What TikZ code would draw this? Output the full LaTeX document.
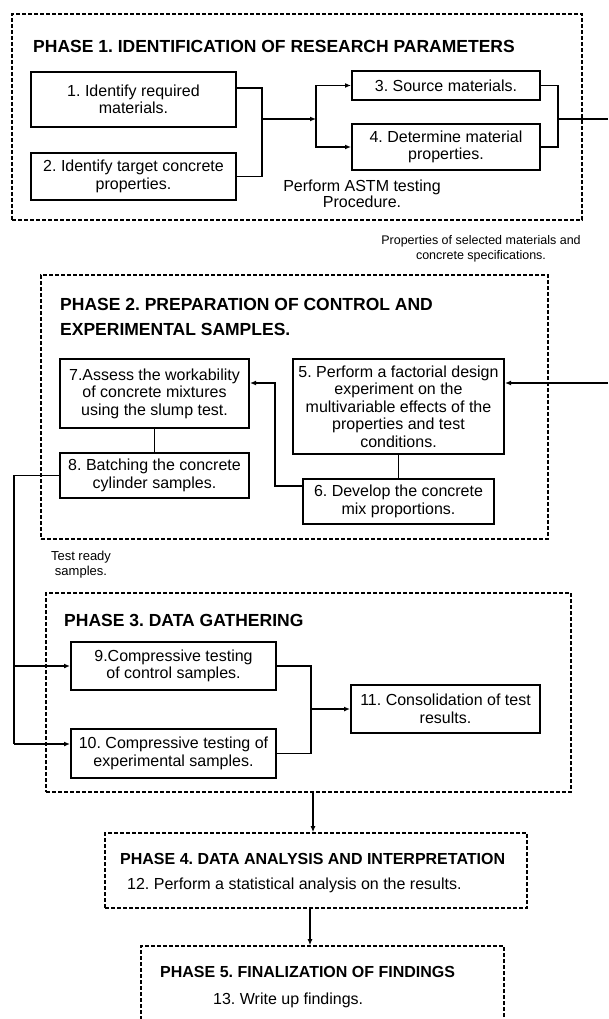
\documentclass[tikz,border=0pt]{standalone}
\usepackage{fontspec}
\setmainfont{Liberation Sans}
\usetikzlibrary{arrows.meta, positioning, calc}
\AtBeginDocument{\frenchspacing}

\begin{document}
\begin{tikzpicture}[
    x=1pt, y=-1pt,
    phase/.style={rectangle, draw, line width=1.6pt, dash pattern=on 4pt off 2pt},
    stepbox/.style={rectangle, draw, line width=2pt, align=center, inner sep=2pt, font=\fontsize{16}{17.5}\selectfont},
    phasetitle/.style={anchor=base west, inner sep=0pt, font=\bfseries\fontsize{17.5}{25}\selectfont},
    remark/.style={align=center, inner sep=0pt, font=\fontsize{12.5}{15}\selectfont},
    link/.style={line width=1.5pt},
    arrow/.style={-{Latex[length=6pt, width=5pt]}, line width=1.5pt}
  ]
  \clip (0,0) rectangle (608,1019);

  % phase 1
  \node[phase, minimum width=570pt, minimum height=206pt] (p1) at (297,117) {};
  \node[phasetitle] (t1) at (33,53) {PHASE 1. IDENTIFICATION OF RESEARCH PARAMETERS};
  \node[stepbox, minimum width=205pt, minimum height=55pt] (s1) at (133.5,99.5) {1. Identify required\\materials.};
  \node[stepbox, minimum width=205pt, minimum height=47pt, below=24pt of s1] (s2) {2. Identify target concrete\\properties.};
  \node[stepbox, minimum width=188pt, minimum height=29pt] (s3) at (446,85.5) {3. Source materials.};
  \node[stepbox, minimum width=188pt, minimum height=46pt, below=22pt of s3] (s4) {4. Determine material\\properties.};
  \node[align=center, inner sep=0pt, font=\fontsize{16}{16}\selectfont] (astm) at (362,194) {Perform ASTM testing\\Procedure.};
  \node[remark] (props) at (481,249) {Properties of selected materials and\\concrete specifications.};

  \coordinate (j1) at (262,119);
  \coordinate (j2) at (316,119);
  \coordinate (j3) at (558,119);
  \coordinate (out1) at (608,119);
  \draw[link] ([yshift=11.5pt]s1.east) -| (j1) |- (s2.east);
  \draw[arrow] (j1) -- (j2);
  \draw[arrow] (j2) |- (s3.west);
  \draw[arrow] (j2) |- (s4.west);
  \draw[link] (s3.east) -| (j3) |- (s4.east);
  \draw[link] (j3) -- (out1);

  % phase 2
  \node[phase, minimum width=507pt, minimum height=264pt] (p2) at (294.5,407) {};
  \node[phasetitle, anchor=north west, align=left] (t2) at (60,298.5) {PHASE 2. PREPARATION OF CONTROL AND\\EXPERIMENTAL SAMPLES.};
  \node[stepbox, minimum width=211pt, minimum height=95pt] (s5) at (398.5,406.5) {5. Perform a factorial design\\experiment on the\\multivariable effects of the\\properties and test\\conditions.};
  \node[stepbox, minimum width=191pt, minimum height=45pt, below=23pt of s5] (s6) {6. Develop the concrete\\mix proportions.};
  \node[stepbox, minimum width=189pt, minimum height=69pt] (s7) at (154.5,393.5) {7.Assess the workability\\of concrete mixtures\\using the slump test.};
  \node[stepbox, minimum width=189pt, minimum height=45pt, below=23pt of s7] (s8) {8. Batching the concrete\\cylinder samples.};
  \node[remark, font=\fontsize{13}{15}\selectfont] (ready) at (81,565) {Test ready\\samples.};

  \coordinate (in2) at (608,383);
  \coordinate (k1) at (275,383);
  \coordinate (k2) at (14,744);
  \draw[arrow] (in2) -- (in2 -| s5.east);
  \draw[link] (s5) -- (s6);
  \draw[arrow] ([yshift=15.5pt]s6.west) -| (k1) -- (k1 -| s7.east);
  \draw[link] (s7) -- (s8);
  \draw[link] (s8.west) -| (k2);

  % phase 3
  \node[phase, minimum width=525pt, minimum height=199pt] (p3) at (308.5,692.5) {};
  \node[phasetitle] (t3) at (64,626) {PHASE 3. DATA GATHERING};
  \node[stepbox, minimum width=205pt, minimum height=48pt] (s9) at (173.5,666) {9.Compressive testing\\of control samples.};
  \node[stepbox, minimum width=205pt, minimum height=49pt, below=37pt of s9] (s10) {10. Compressive testing of\\experimental samples.};
  \node[stepbox, minimum width=189pt, minimum height=48pt] (s11) at (445.5,709) {11. Consolidation of test\\results.};

  \coordinate (k3) at (311,709);
  \draw[arrow] (k2 |- s9.west) -- (s9.west);
  \draw[arrow] (k2) -- (k2 -| s10.west);
  \draw[link] (s9.east) -| (k3) |- (s10.east);
  \draw[arrow] (k3) -- (s11.west);

  % phases 4 and 5
  \node[phase, minimum width=422pt, minimum height=75pt] (p4) at (316,870.5) {};
  \node[phasetitle, font=\bfseries\fontsize{16}{18}\selectfont] (t4) at (120,864) {PHASE 4. DATA ANALYSIS AND INTERPRETATION};
  \node[anchor=base west, inner sep=0pt, font=\fontsize{16}{18}\selectfont] (s12) at (127,889) {12. Perform a statistical analysis on the results.};

  \node[phase, minimum width=363pt, minimum height=110pt] (p5) at (322.5,1001) {};
  \node[phasetitle, font=\bfseries\fontsize{16}{18}\selectfont] (t5) at (160,977) {PHASE 5. FINALIZATION OF FINDINGS};
  \node[anchor=base west, inner sep=0pt, font=\fontsize{16}{18}\selectfont] (s13) at (213,1004) {13. Write up findings.};

  \coordinate (a34) at ($(p3.south)+(4.5,0)$);
  \coordinate (a45) at ($(p4.south)+(-6,0)$);
  \draw[arrow] (a34) -- (a34 |- p4.north);
  \draw[arrow] (a45) -- (a45 |- p5.north);
\end{tikzpicture}
\end{document}
